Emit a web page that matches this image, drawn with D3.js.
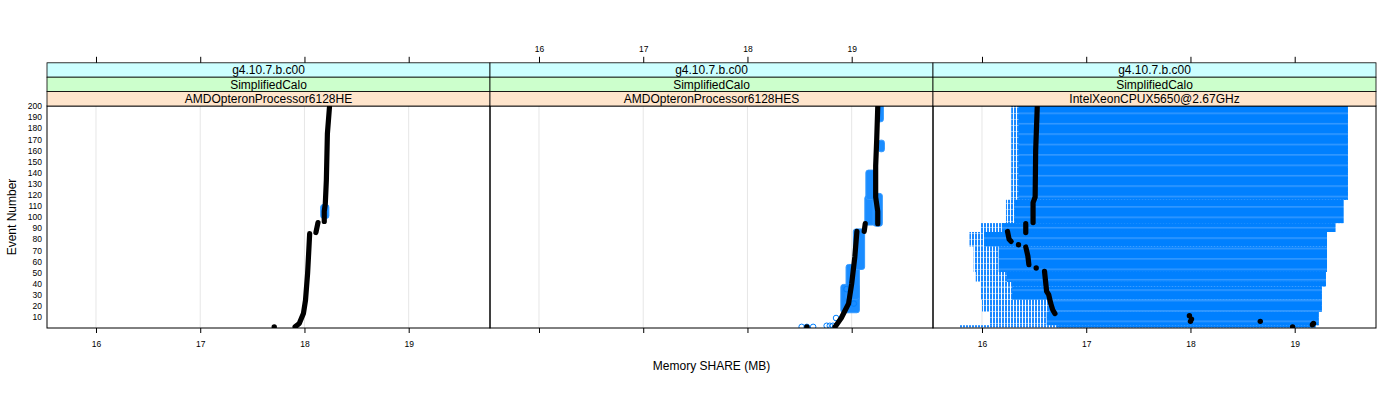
<!DOCTYPE html>
<html>
<head>
<meta charset="utf-8">
<script src="https://cdn.jsdelivr.net/npm/d3@7"></script>
<style>
  body { margin: 0; background: #fff; }
  svg { display: block; font-family: 'Liberation Sans', Arial, sans-serif; }
</style>
</head>
<body>
<div id="chart"></div>
<script>
// strips (outer to inner)
const stripVersion = 'g4.10.7.b.c00'
const stripTest = 'SimplifiedCalo'
const cpus = ['AMDOpteronProcessor6128HE', 'AMDOpteronProcessor6128HES', 'IntelXeonCPUX5650@2.67GHz']

const xTicks = [16, 17, 18, 19]
const yTicks = [10, 20, 30, 40, 50, 60, 70, 80, 90, 100, 110, 120, 130, 140, 150, 160, 170, 180, 190, 200]

// black points, as runs of [event, MB]
const black1 = [
  [[1, 17.91], [4, 17.95], [13, 17.99], [25, 18.01], [49, 18.03], [85, 18.05]],
  [[86, 18.11], [95, 18.13]],
  [[96, 18.19], [105, 18.19], [112, 18.20], [133, 18.21], [175, 18.22], [199, 18.24]]
]
const blackDots1 = [[1, 17.71]]
const black2 = [
  [[1, 18.84], [9, 18.90], [22, 18.97], [40, 19.00], [64, 19.03], [87, 19.05]],
  [[87, 19.12], [94, 19.13]],
  [[94, 19.25], [105, 19.25], [118, 19.23], [146, 19.23], [170, 19.24], [199, 19.25]]
]
const blackDots2 = [[1, 18.57]]
const black3 = [
  [[199, 16.53], [160, 16.515], [118, 16.51], [113, 16.49], [95, 16.49]],
  [[86, 16.42], [94, 16.42]],
  [[87, 16.245], [80, 16.26], [78, 16.28]],
  [[73, 16.42], [65, 16.44], [57, 16.45]],
  [[51, 16.60], [42, 16.61], [33, 16.62], [30, 16.64], [22, 16.66], [16, 16.68], [13, 16.70]]
]
const blackDots3 = [[75, 16.35], [54, 16.52], [11, 17.99], [8, 18.01], [6, 18.0], [6, 18.67], [1, 18.98], [4, 19.18], [3, 19.17]]

// blue open circles: [eventFrom, eventTo, MBfrom, MBto] where they pile up
const blue1 = [[101, 109, 18.18, 18.21]]
const blue2 = [
  [16, 37, 18.92, 19.05], [28, 55, 18.97, 19.05], [55, 87, 19.04, 19.10],
  [95, 117, 19.15, 19.20], [94, 119, 19.23, 19.27], [118, 140, 19.16, 19.20],
  [161, 167, 19.28, 19.29], [188, 199, 19.26, 19.28]
]
const blueOpen2 = [[1, 18.52], [1, 18.57], [1, 18.63], [2, 18.76], [2, 18.79], [2, 18.82], [9, 18.85], [35, 18.95], [22, 19.02]]
// panel 3: sparse edge and dense body of the circles
const blueEdge3 = [
  [116, 200, 16.28, 19.51], [95, 115, 16.23, 19.47], [87, 94, 15.99, 19.39],
  [74, 86, 15.88, 19.31], [51, 73, 15.92, 19.31], [42, 50, 15.94, 19.30],
  [38, 41, 15.99, 19.30], [26, 37, 15.99, 19.26], [15, 25, 16.00, 19.26],
  [3, 14, 16.07, 19.23], [1, 2, 15.78, 19.20]
]
const blueBody3 = [
  [116, 200, 16.35, 19.51], [95, 115, 16.31, 19.47], [87, 94, 16.19, 19.39],
  [74, 86, 16.02, 19.31], [51, 73, 16.16, 19.31], [42, 50, 16.24, 19.30],
  [38, 41, 16.29, 19.30], [26, 37, 16.29, 19.26], [15, 25, 16.64, 19.26],
  [3, 14, 16.62, 19.23], [1, 2, 16.72, 19.20]
]

const panels = [
  { cpu: cpus[0], black: black1, dots: blackDots1, blue: blue1, open: [], edge: [], body: [] },
  { cpu: cpus[1], black: black2, dots: blackDots2, blue: blue2, open: blueOpen2, edge: [], body: [] },
  { cpu: cpus[2], black: black3, dots: blackDots3, blue: [], open: [], edge: blueEdge3, body: blueBody3 }
]

const width = 1400
const height = 400
const margin = { left: 47, top: 106, bottom: 72 }
const panelW = 443
const stripH = 14.4
const BLUE = '#0080ff'

const svg = d3.select('#chart').append('svg').attr('width', width).attr('height', height)
svg.append('rect').attr('width', width).attr('height', height).attr('fill', '#fff')

const defs = svg.append('defs')
const rows = defs.append('pattern').attr('id', 'rows').attr('patternUnits', 'userSpaceOnUse')
  .attr('width', 8).attr('height', 10.4)
rows.append('rect').attr('width', 8).attr('height', 10.4).attr('fill', BLUE)
rows.append('rect').attr('y', 8.6).attr('width', 8).attr('height', 1.4).attr('fill', '#3a9cff')
const stripes = defs.append('pattern').attr('id', 'stripes').attr('patternUnits', 'userSpaceOnUse')
  .attr('width', 3).attr('height', 6)
stripes.append('rect').attr('width', 3).attr('height', 6).attr('fill', '#fff')
stripes.append('rect').attr('width', 2).attr('height', 5).attr('fill', '#1a88ff')
stripes.append('rect').attr('y', 5).attr('width', 2).attr('height', 1).attr('fill', '#7fbfff')

const x = d3.scaleLinear().domain([15.53, 19.78]).range([0, panelW])
const y = d3.scaleLinear().domain([0, 200]).range([height - margin.bottom, margin.top])
const plotH = y(0) - y(200)

const line = d3.line().x(d => x(d[1])).y(d => y(d[0]))

panels.forEach((p, i) => {
  const g = svg.append('g').attr('transform', `translate(${margin.left + i * panelW},0)`)

  defs.append('clipPath').attr('id', 'clip' + i)
    .append('rect').attr('x', 0).attr('y', y(200)).attr('width', panelW).attr('height', plotH)

  // grid
  g.append('g').selectAll('line').data(xTicks).join('line')
    .attr('x1', d => x(d)).attr('x2', d => x(d))
    .attr('y1', y(200)).attr('y2', y(0))
    .attr('stroke', '#e6e6e6')

  const body = g.append('g').attr('clip-path', `url(#clip${i})`)

  body.selectAll('rect.edge').data(p.edge).join('rect').attr('class', 'edge')
    .attr('x', d => x(d[2])).attr('width', d => x(d[3]) - x(d[2]))
    .attr('y', d => y(d[1] + 0.5)).attr('height', d => y(d[0] - 0.5) - y(d[1] + 0.5))
    .attr('fill', 'url(#stripes)')

  body.selectAll('rect.body').data(p.body).join('rect').attr('class', 'body')
    .attr('x', d => x(d[2])).attr('width', d => x(d[3]) - x(d[2]))
    .attr('y', d => y(d[1] + 0.5)).attr('height', d => y(d[0] - 0.5) - y(d[1] + 0.5))
    .attr('fill', 'url(#rows)')

  body.selectAll('rect.blue').data(p.blue).join('rect').attr('class', 'blue')
    .attr('x', d => x(d[2]) - 2.5).attr('width', d => x(d[3]) - x(d[2]) + 5)
    .attr('y', d => y(d[1]) - 2.5).attr('height', d => y(d[0]) - y(d[1]) + 5)
    .attr('rx', 2.5)
    .attr('fill', '#1a8cff').attr('stroke', '#3399ff').attr('stroke-width', 1)

  body.selectAll('circle.open').data(p.open).join('circle').attr('class', 'open')
    .attr('cx', d => x(d[1])).attr('cy', d => y(d[0])).attr('r', 2.8)
    .attr('fill', 'none').attr('stroke', BLUE).attr('stroke-width', 1)

  body.selectAll('path.black').data(p.black).join('path').attr('class', 'black')
    .attr('d', line)
    .attr('fill', 'none').attr('stroke', '#000')
    .attr('stroke-width', 5.2).attr('stroke-linecap', 'round').attr('stroke-linejoin', 'round')

  body.selectAll('circle.dot').data(p.dots).join('circle').attr('class', 'dot')
    .attr('cx', d => x(d[1])).attr('cy', d => y(d[0])).attr('r', 2.7)
    .attr('fill', '#000')

  // panel border
  g.append('rect').attr('x', 0).attr('y', y(200)).attr('width', panelW).attr('height', plotH)
    .attr('fill', 'none').attr('stroke', '#000').attr('stroke-width', 1)

  // strips
  const strips = [
    { label: stripVersion, fill: '#ccffff' },
    { label: stripTest, fill: '#ccffcc' },
    { label: p.cpu, fill: '#ffe5cc' }
  ]
  const top = y(200) - stripH * 3
  const sg = g.append('g').selectAll('g').data(strips).join('g')
    .attr('transform', (d, k) => `translate(0,${top + k * stripH})`)
  sg.append('rect').attr('width', panelW).attr('height', stripH)
    .attr('fill', d => d.fill).attr('stroke', '#000').attr('stroke-width', 0.8)
  sg.append('text').attr('x', panelW / 2).attr('y', stripH / 2).attr('dy', '0.36em')
    .attr('text-anchor', 'middle').attr('font-size', 12).attr('fill', '#000')
    .text(d => d.label)

  // x axes: labels alternate bottom/top like lattice
  const bottomAxis = g.append('g').attr('transform', `translate(0,${y(0)})`)
    .call(d3.axisBottom(x).tickValues(xTicks).tickSize(5).tickSizeOuter(0)
      .tickPadding(8).tickFormat(i === 1 ? '' : d3.format('d')))
  const topAxis = g.append('g').attr('transform', `translate(0,${top})`)
    .call(d3.axisTop(x).tickValues(xTicks).tickSize(6).tickSizeOuter(0)
      .tickPadding(5).tickFormat(i === 1 ? d3.format('d') : ''))
  ;[bottomAxis, topAxis].forEach(a => {
    a.select('.domain').remove()
    a.selectAll('text').attr('font-size', 8.5).attr('font-family', null).attr('fill', '#000')
    a.selectAll('line').attr('stroke', '#000')
  })
})

// y axis on the left panel
const yAxis = svg.append('g').attr('transform', `translate(${margin.left},0)`)
  .call(d3.axisLeft(y).tickValues(yTicks).tickSize(0).tickPadding(5))
yAxis.select('.domain').remove()
yAxis.selectAll('text').attr('font-size', 8.5).attr('font-family', null).attr('fill', '#000')

svg.append('text')
  .attr('transform', `translate(16,${(y(0) + y(200)) / 2}) rotate(-90)`)
  .attr('text-anchor', 'middle').attr('font-size', 12)
  .text('Event Number')

svg.append('text')
  .attr('x', margin.left + panelW * 1.5).attr('y', 370)
  .attr('text-anchor', 'middle').attr('font-size', 12)
  .text('Memory SHARE (MB)')
</script>
</body>
</html>
